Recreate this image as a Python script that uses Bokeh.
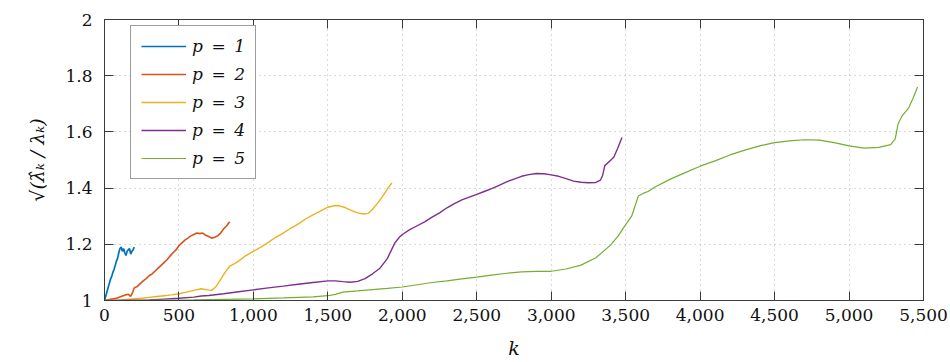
from bokeh.plotting import figure
from bokeh.models import (FixedTicker, NumeralTickFormatter, LinearAxis, Legend,
                          LegendItem, Range1d, CustomLabelingPolicy)
from bokeh.embed import file_html
from bokeh.resources import INLINE

# ratio sqrt(lambda_hat_k / lambda_k) against k, one series per p
k_p1 = [0, 8, 16, 24, 32, 40, 48, 56, 64, 72, 80, 88, 96, 104, 112, 120, 128,
        136, 144, 152, 160, 168, 176, 184, 192, 200]
r_p1 = [1.0, 1.015, 1.03, 1.045, 1.06, 1.075, 1.085, 1.10, 1.11, 1.125, 1.14,
        1.15, 1.17, 1.185, 1.19, 1.175, 1.185, 1.17, 1.16, 1.175, 1.18, 1.185,
        1.165, 1.175, 1.18, 1.19]

k_p2 = [0, 20, 40, 60, 80, 100, 120, 140, 160, 175, 190, 200, 220, 240, 260,
        280, 300, 320, 340, 360, 380, 400, 420, 440, 460, 480, 500, 520, 540,
        560, 580, 600, 620, 640, 660, 680, 700, 720, 740, 760, 780, 800, 820, 840]
r_p2 = [1.0, 1.002, 1.004, 1.006, 1.008, 1.012, 1.016, 1.02, 1.022, 1.015, 1.03,
        1.045, 1.05, 1.06, 1.07, 1.078, 1.088, 1.095, 1.105, 1.115, 1.125, 1.135,
        1.145, 1.158, 1.17, 1.18, 1.195, 1.205, 1.215, 1.222, 1.23, 1.235, 1.24,
        1.238, 1.24, 1.232, 1.228, 1.222, 1.225, 1.23, 1.24, 1.255, 1.265, 1.28]

k_p3 = [0, 50, 100, 150, 200, 250, 300, 350, 400, 450, 500, 550, 600, 650, 690,
        720, 750, 780, 810, 840, 870, 900, 950, 1000, 1050, 1100, 1150, 1200,
        1250, 1300, 1350, 1400, 1450, 1500, 1550, 1580, 1620, 1660, 1700, 1740,
        1770, 1800, 1840, 1880, 1910, 1930]
r_p3 = [1.0, 1.001, 1.002, 1.004, 1.006, 1.008, 1.011, 1.014, 1.017, 1.02, 1.024,
        1.03, 1.036, 1.042, 1.038, 1.036, 1.05, 1.075, 1.1, 1.122, 1.13, 1.14,
        1.16, 1.175, 1.19, 1.207, 1.225, 1.24, 1.257, 1.272, 1.29, 1.305, 1.318,
        1.332, 1.338, 1.337, 1.33, 1.32, 1.312, 1.308, 1.31, 1.325, 1.35, 1.38,
        1.405, 1.418]

k_p4 = [0, 100, 200, 300, 400, 500, 600, 650, 700, 800, 900, 1000, 1100, 1200,
        1300, 1400, 1500, 1550, 1600, 1650, 1700, 1750, 1800, 1850, 1900, 1950,
        1980, 2000, 2050, 2100, 2150, 2200, 2250, 2300, 2350, 2400, 2450, 2500,
        2550, 2600, 2650, 2700, 2750, 2800, 2850, 2900, 2950, 3000, 3050, 3100,
        3150, 3200, 3250, 3300, 3330, 3345, 3360, 3390, 3420, 3445, 3475]
r_p4 = [1.0, 1.0, 1.001, 1.002, 1.005, 1.008, 1.012, 1.016, 1.018, 1.024, 1.031,
        1.038, 1.045, 1.051, 1.058, 1.064, 1.07, 1.07, 1.067, 1.065, 1.068, 1.078,
        1.095, 1.115, 1.15, 1.205, 1.225, 1.235, 1.252, 1.266, 1.28, 1.297, 1.312,
        1.33, 1.345, 1.358, 1.368, 1.378, 1.388, 1.398, 1.41, 1.422, 1.432, 1.442,
        1.448, 1.452, 1.451, 1.447, 1.442, 1.434, 1.425, 1.421, 1.419, 1.42,
        1.428, 1.445, 1.48, 1.495, 1.51, 1.54, 1.58]

k_p5 = [0, 200, 400, 600, 800, 1000, 1200, 1400, 1500, 1550, 1600, 1700, 1800,
        1900, 2000, 2100, 2200, 2300, 2400, 2500, 2600, 2700, 2800, 2900, 3000,
        3100, 3200, 3300, 3400, 3450, 3500, 3540, 3565, 3585, 3620, 3650, 3700,
        3800, 3900, 4000, 4100, 4200, 4300, 4400, 4500, 4600, 4700, 4800, 4900,
        5000, 5100, 5200, 5280, 5310, 5330, 5360, 5400, 5430, 5460]
r_p5 = [1.0, 1.0, 1.001, 1.002, 1.004, 1.006, 1.009, 1.013, 1.017, 1.022, 1.03,
        1.034, 1.039, 1.043, 1.048, 1.056, 1.064, 1.07, 1.077, 1.083, 1.09, 1.097,
        1.102, 1.104, 1.104, 1.112, 1.126, 1.152, 1.198, 1.23, 1.27, 1.3, 1.34,
        1.372, 1.382, 1.388, 1.405, 1.432, 1.455, 1.478, 1.497, 1.518, 1.535,
        1.55, 1.562, 1.568, 1.572, 1.571, 1.562, 1.55, 1.542, 1.545, 1.555, 1.575,
        1.63, 1.66, 1.685, 1.72, 1.76]

series_names = ["p\u2002=\u20021", "p\u2002=\u20022", "p\u2002=\u20023",
                "p\u2002=\u20024", "p\u2002=\u20025"]
series_colors = ["#0072BD", "#D95319", "#EDB120", "#7E2F8E", "#77AC30"]
series_widths = [1.7, 1.6, 1.4, 1.4, 1.2]

x_ticks = [0, 500, 1000, 1500, 2000, 2500, 3000, 3500, 4000, 4500, 5000, 5500]
y_ticks = [1, 1.2, 1.4, 1.6, 1.8, 2]

FONT = "DejaVu Serif"
FRAME = "#3a3a3a"

p = figure(width=950, height=362, output_backend="svg", toolbar_location=None,
           x_range=Range1d(0, 5500), y_range=Range1d(1, 2),
           min_border_left=104, min_border_right=27, min_border_top=19,
           min_border_bottom=62)
p.background_fill_color = "white"
p.border_fill_color = "white"
p.outline_line_color = FRAME
p.outline_line_width = 1

# dotted major grid
for g in (p.xgrid, p.ygrid):
    g.grid_line_color = "#b5b5b5"
    g.grid_line_dash = "1 4"
    g.grid_line_width = 1
p.xgrid.ticker = FixedTicker(ticks=x_ticks)
p.ygrid.ticker = FixedTicker(ticks=y_ticks)

# tick marks only (no labels) for the mirrored top/right axes
no_labels = CustomLabelingPolicy(code="return new Set()")

def style_axis(ax, ticks, fmt):
    ax.ticker = FixedTicker(ticks=ticks)
    ax.formatter = NumeralTickFormatter(format=fmt)
    ax.major_tick_in = 9
    ax.major_tick_out = 0
    ax.minor_tick_in = 0
    ax.minor_tick_out = 0
    ax.axis_line_color = FRAME
    ax.major_tick_line_color = FRAME
    ax.major_label_text_font = FONT
    ax.major_label_text_font_size = "17px"
    ax.major_label_text_color = "#111111"

xax = p.xaxis[0]
yax = p.yaxis[0]
style_axis(xax, x_ticks, "0,0")
style_axis(yax, y_ticks, "0[.]0")
xax.major_label_standoff = 8
yax.major_label_standoff = 12

top = LinearAxis()
right = LinearAxis()
for ax, ticks, fmt in ((top, x_ticks, "0,0"), (right, y_ticks, "0[.]0")):
    style_axis(ax, ticks, fmt)
    ax.major_label_policy = no_labels
    ax.major_label_text_font_size = "1px"
    ax.major_label_standoff = 0
p.add_layout(top, "above")
p.add_layout(right, "right")

xax.axis_label = "k"
xax.axis_label_text_font = FONT
xax.axis_label_text_font_style = "italic"
xax.axis_label_text_font_size = "19px"
xax.axis_label_text_color = "#111111"
xax.axis_label_standoff = 13

yax.axis_label = "\u221a(\u03bb\u0302\u2096 / \u03bb\u2096)"
yax.axis_label_text_font = FONT
yax.axis_label_text_font_style = "italic"
yax.axis_label_text_font_size = "19px"
yax.axis_label_text_color = "#111111"
yax.axis_label_standoff = 14

xs = [k_p1, k_p2, k_p3, k_p4, k_p5]
ys = [r_p1, r_p2, r_p3, r_p4, r_p5]
items = []
for kx, ry, name, col, w in zip(xs, ys, series_names, series_colors, series_widths):
    r = p.line(kx, ry, line_color=col, line_width=w)
    items.append(LegendItem(label=name, renderers=[r]))

legend = Legend(items=items, location=(26, 121))
legend.label_text_font = FONT
legend.label_text_font_style = "italic"
legend.label_text_font_size = "17px"
legend.label_text_color = "#111111"
legend.glyph_width = 45
legend.glyph_height = 20
legend.label_height = 20
legend.spacing = 8
legend.padding = 10
legend.margin = 0
legend.label_standoff = 6
legend.border_line_color = FRAME
legend.border_line_width = 1
legend.background_fill_alpha = 1
p.add_layout(legend, "center")

open("out.html", "w").write(file_html(p, INLINE))
